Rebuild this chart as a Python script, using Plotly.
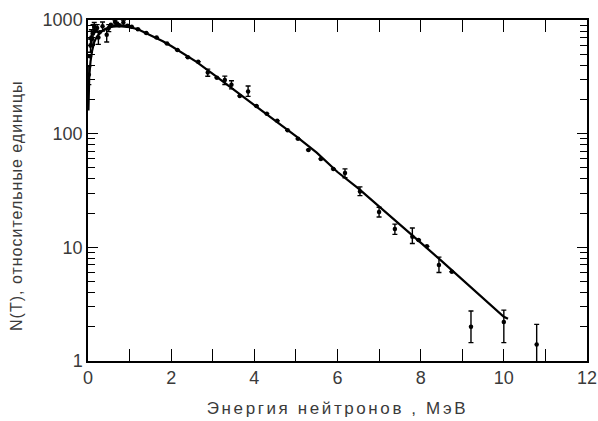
import plotly.graph_objects as go

# Fitted fission-neutron spectrum: energy (MeV) and relative yield
curve_e = [0.01, 0.03, 0.06, 0.1, 0.15, 0.2, 0.3, 0.4, 0.5, 0.6, 0.75, 0.9, 1.0, 1.2,
           1.5, 1.8, 2.0, 2.3, 2.6, 3.0, 3.5, 4.0, 4.5, 5.0, 5.5, 6.0, 6.5, 7.0,
           7.5, 8.0, 8.5, 9.0, 9.5, 10.0, 10.1]
curve_n = [160, 320, 430, 540, 640, 700, 780, 830, 860, 875, 882, 875, 865, 830,
           740, 650, 590, 505, 430, 335, 245, 180, 132, 95, 68, 46, 33, 23,
           15.8, 11, 7.6, 5.2, 3.6, 2.45, 2.35]

# Measured points with upper / lower uncertainties
pt_e = [0.02, 0.04, 0.06, 0.08, 0.09, 0.12, 0.15, 0.17, 0.22, 0.25, 0.28, 0.35,
        0.45, 0.5, 0.55, 0.65, 0.7, 0.75, 0.85, 0.95, 1.05, 1.2, 1.4, 1.65,
        1.9, 2.15, 2.4, 2.65, 2.88, 3.1, 3.29, 3.45, 3.65, 3.85, 4.05, 4.3,
        4.55, 4.8, 5.05, 5.3, 5.6, 5.9, 6.18, 6.54, 7.0, 7.38, 7.8, 7.95,
        8.15, 8.44, 8.75, 9.21, 10.0, 10.79]
pt_n = [330, 480, 600, 700, 680, 760, 870, 800, 850, 700, 780, 880,
        740, 850, 910, 960, 930, 900, 950, 890, 870, 830, 770, 700,
        620, 545, 470, 430, 345, 310, 296, 270, 215, 235, 175, 150,
        130, 107, 90, 72, 60, 49, 45, 31, 20.5, 14.5, 12.4, 11.6,
        10.2, 7.0, 6.1, 2.0, 2.2, 1.4]
pt_hi = [60, 0, 80, 120, 0, 150, 80, 0, 60, 90, 0, 80,
         80, 60, 0, 40, 0, 0, 50, 0, 0, 0, 0, 0,
         0, 0, 0, 0, 25, 0, 25, 22, 0, 28, 0, 0,
         0, 0, 0, 0, 0, 0, 4, 3, 2, 1.5, 2.4, 0,
         0, 1.2, 0, 0.75, 0.6, 0.7]
pt_lo = [60, 0, 80, 120, 0, 150, 80, 0, 60, 90, 0, 80,
         100, 60, 0, 60, 0, 0, 50, 0, 0, 0, 0, 0,
         0, 0, 0, 0, 25, 0, 25, 22, 0, 22, 0, 0,
         0, 0, 0, 0, 0, 0, 4, 2.5, 2, 1.5, 1.6, 0,
         0, 1.0, 0, 0.55, 0.75, 0.65]

x_ticks = [0, 2, 4, 6, 8, 10, 12]
y_ticks = [1, 10, 100, 1000]
y_tick_text = ["1", "10", "100", "1000"]
y_minor = [m * d for d in (1, 10, 100) for m in range(2, 10)]

x_title = "Энергия нейтронов , МэВ"
y_title = "N(T), относительные единицы"

font_family = "Liberation Sans, Arial, sans-serif"
ink = "#3a3a3a"


def spaced(text, px):
    return f"<span style='letter-spacing:{px}px'>{text}</span>"


fig = go.Figure()

fig.add_trace(go.Scatter(
    x=curve_e, y=curve_n, mode="lines",
    line=dict(color="black", width=2.2),
    hoverinfo="skip", showlegend=False,
))

fig.add_trace(go.Scatter(
    x=pt_e, y=pt_n, mode="markers",
    marker=dict(color="black", size=4.5),
    error_y=dict(type="data", symmetric=False, array=pt_hi, arrayminus=pt_lo,
                 color="black", thickness=1.4, width=2.5),
    cliponaxis=False, showlegend=False,
))

fig.update_layout(
    width=598, height=421,
    margin=dict(l=88, r=11, t=20, b=60),
    paper_bgcolor="white", plot_bgcolor="white",
    font=dict(family=font_family, color=ink, size=17),
)

fig.update_xaxes(
    range=[0, 12], tickvals=x_ticks, automargin=False,
    ticks="inside", ticklen=12, tickwidth=1.3, tickcolor="black",
    minor=dict(dtick=1, ticks="inside", ticklen=12, tickwidth=1.3, tickcolor="black"),
    showline=True, linecolor="black", linewidth=1.5, mirror="ticks",
    showgrid=False, zeroline=False,
    tickfont=dict(size=18, color=ink),
    title=dict(text=spaced(x_title, 2.6), font=dict(size=17, color=ink), standoff=15),
)

fig.update_yaxes(
    type="log", range=[0, 3], automargin=False,
    tickvals=y_ticks, ticktext=y_tick_text,
    ticks="inside", ticklen=10, tickwidth=1.3, tickcolor="black",
    minor=dict(tickvals=y_minor, ticks="inside", ticklen=7, tickwidth=1.1, tickcolor="black"),
    showline=True, linecolor="black", linewidth=1.5, mirror="ticks",
    showgrid=False, zeroline=False,
    tickfont=dict(size=18, color=ink),
)

# Rotated y-axis title placed beside the tick labels
fig.add_annotation(
    text=spaced(y_title, 1), textangle=-90,
    xref="paper", yref="paper", x=-0.142, y=0.455,
    xanchor="center", yanchor="middle", showarrow=False,
    font=dict(size=16, color=ink),
)

fig.write_html("out.html")
